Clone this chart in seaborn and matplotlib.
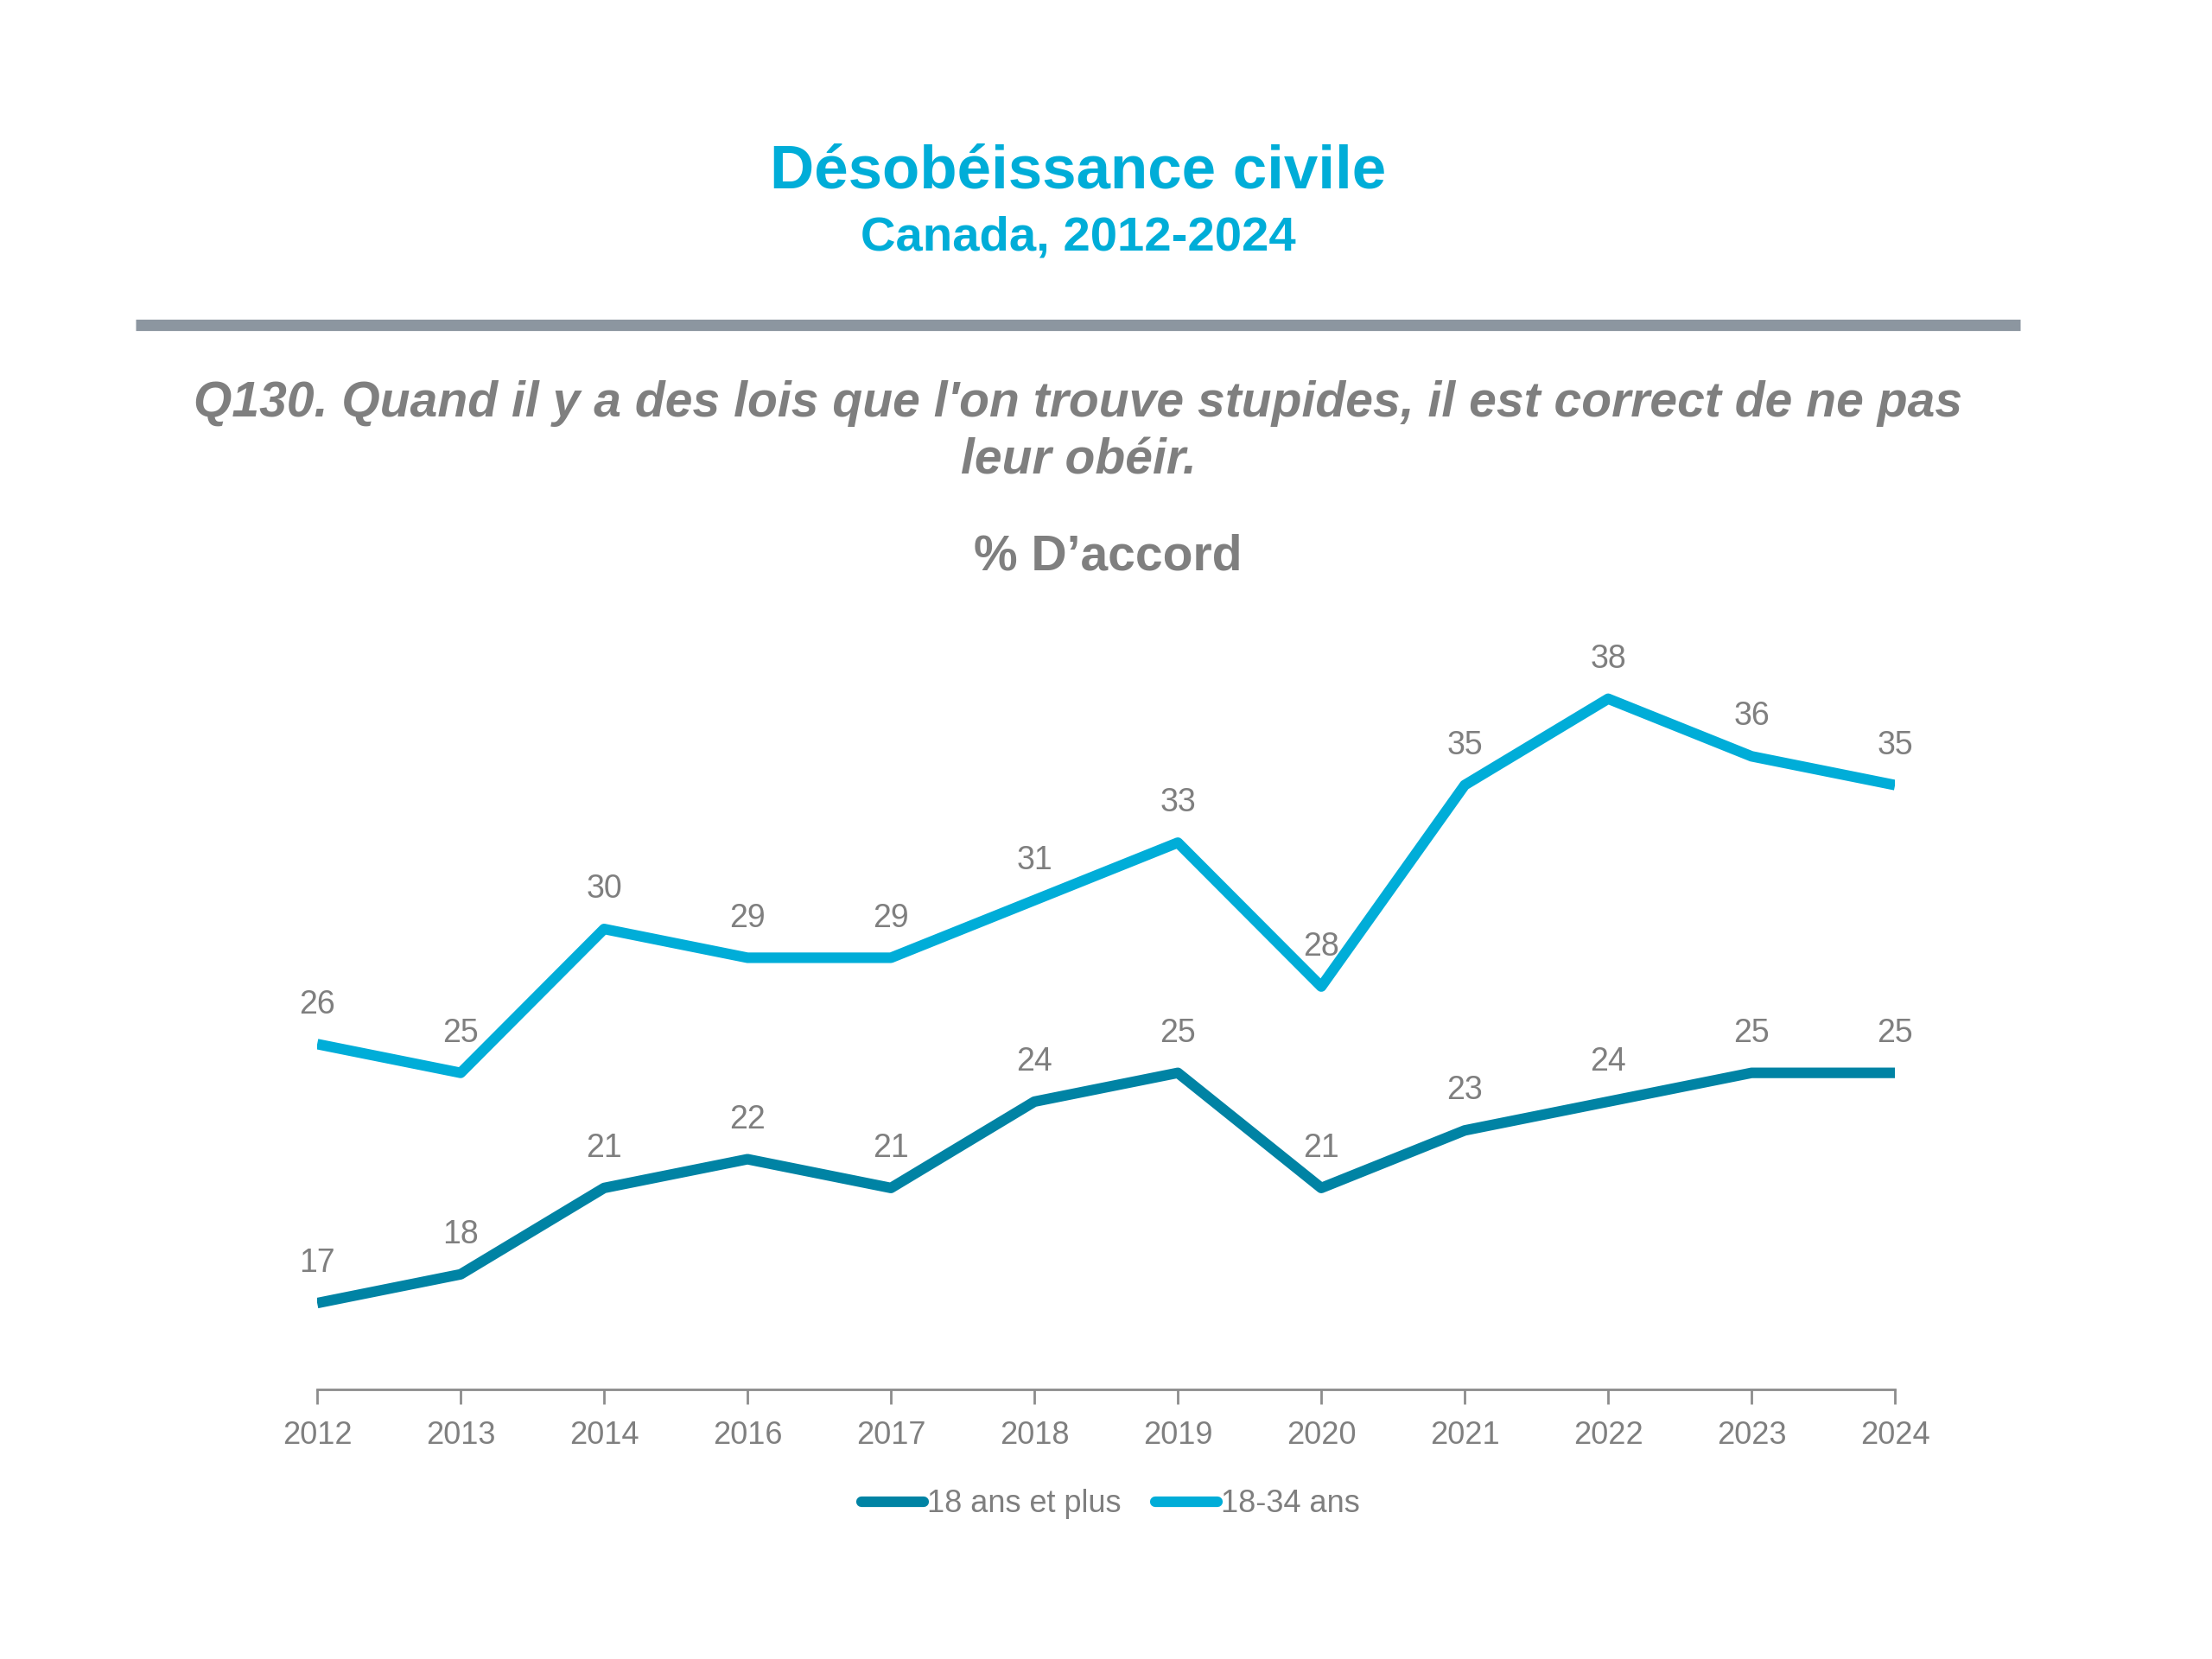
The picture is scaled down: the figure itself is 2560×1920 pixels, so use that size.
import matplotlib
matplotlib.use("Agg")
import matplotlib.pyplot as plt
import seaborn as sns
import pandas as pd
from matplotlib.lines import Line2D
from matplotlib import font_manager

years = ["2012", "2013", "2014", "2016", "2017", "2018", "2019", "2020", "2021", "2022", "2023", "2024"]
all_adults = [17, 18, 21, 22, 21, 24, 25, 21, 23, 24, 25, 25]
young = [26, 25, 30, 29, 29, 31, 33, 28, 35, 38, 36, 35]
series_names = ["18 ans et plus", "18-34 ans"]
colors = ["#0083A4", "#00ADD8"]

title = "Désobéissance civile"
subtitle = "Canada, 2012-2024"
question = "Q130. Quand il y a des lois que l'on trouve stupides, il est correct de ne pas\nleur obéir."
measure = "% D\u2019accord"

sns.set_theme(style="white")
avail = {f.name for f in font_manager.fontManager.ttflist}
narrow = "Liberation Sans Narrow" if "Liberation Sans Narrow" in avail else "Liberation Sans"
plt.rcParams["font.family"] = ["Liberation Sans", "DejaVu Sans"]

df = pd.DataFrame({
    "year": years * 2,
    "value": all_adults + young,
    "series": [series_names[0]] * len(years) + [series_names[1]] * len(years),
})

fig = plt.figure(figsize=(25.6, 19.2), dpi=100)
ax = fig.add_axes([0.1434, 0.1625, 0.7133, 0.451])

sns.lineplot(data=df, x="year", y="value", hue="series", palette=colors,
             linewidth=8.8, ax=ax, legend=False, sort=False)
for ln in ax.lines:
    ln.set_solid_capstyle("butt")
    ln.set_solid_joinstyle("round")

grey = "#7F7F7F"
for vals in (all_adults, young):
    for i, v in enumerate(vals):
        ax.annotate(str(v), (i, v), xytext=(0, 33), textcoords="offset points",
                    ha="center", va="center", fontsize=27, color=grey, family=[narrow, "DejaVu Sans"])

ax.set_xlim(0, len(years) - 1)
ax.set_ylim(14, 40)
ax.set_xlabel("")
ax.set_ylabel("")
ax.set_yticks([])
for s in ["top", "right", "left"]:
    ax.spines[s].set_visible(False)
ax.spines["bottom"].set_color("#8C8C8C")
ax.spines["bottom"].set_linewidth(2)
ax.set_xticks(range(len(years)))
ax.set_xticklabels(years, family=[narrow, "DejaVu Sans"], fontsize=26, color=grey)
ax.tick_params(axis="x", bottom=True, length=12, width=2, color="#8C8C8C", pad=14)

handles = [Line2D([0], [0], color=c, lw=8.8, solid_capstyle="round") for c in colors]
leg = fig.legend(handles, series_names, loc="center", bbox_to_anchor=(0.502, 1 - 1741 / 1920),
                 ncol=2, frameon=False, handlelength=2.0, handletextpad=0.1, columnspacing=1.1,
                 prop={"family": [narrow, "DejaVu Sans"], "size": 26})
for t in leg.get_texts():
    t.set_color(grey)

title_color = "#00ADD8"
fig.text(0.4875, 1 - 200 / 1920, title, ha="center", va="center", fontsize=51,
         fontweight="bold", color=title_color)
fig.text(0.4875, 1 - 276 / 1920, subtitle, ha="center", va="center", fontsize=40.5,
         fontweight="bold", color=title_color)
fig.add_artist(Line2D([157 / 2560, 2338 / 2560], [1 - 376 / 1920] * 2, color="#8C96A0",
                      lw=9.5, solid_capstyle="butt", transform=fig.transFigure))
fig.text(0.4875, 1 - 500 / 1920, question, ha="center", va="center", fontsize=41,
         fontweight="bold", fontstyle="italic", color=grey, linespacing=1.3)
fig.text(0.501, 1 - 644 / 1920, measure, ha="center", va="center", fontsize=41,
         fontweight="bold", color=grey)

fig.savefig("out.png", dpi=100, facecolor="white")
